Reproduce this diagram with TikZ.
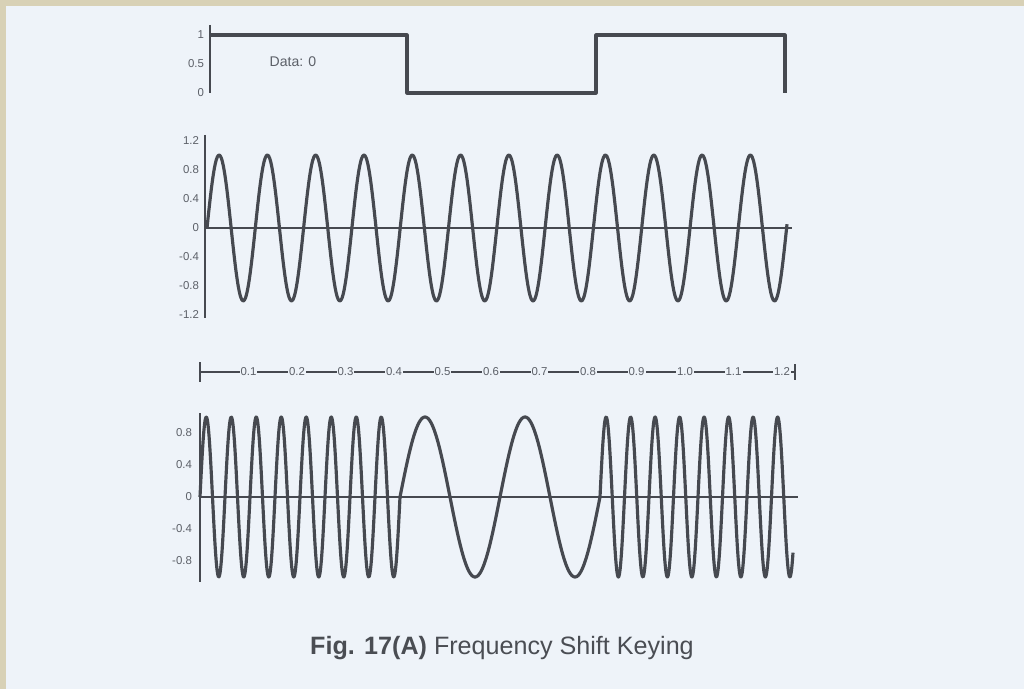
\documentclass[tikz,border=0pt]{standalone}
\usepackage{fontspec}
\setmainfont{Liberation Sans}
\usepackage{tikz}
\usetikzlibrary{positioning,calc}
\definecolor{pageBg}{RGB}{238,243,249}
\definecolor{frameBeige}{RGB}{216,209,182}
\definecolor{inkGray}{RGB}{70,73,80}
\definecolor{textGray}{RGB}{92,96,104}

\tikzset{
  wave/.style={draw=inkGray,line width=1.8pt,line join=round},
  axisline/.style={draw=inkGray,line width=1.1pt},
  ticklbl/.style={text=textGray,font=\fontsize{6.5}{7}\selectfont,inner sep=1pt},
  steplbl/.style={text=textGray,font=\fontsize{6.5}{7}\selectfont,fill=pageBg,inner sep=0.6pt},
  figcaption/.style={text=textGray!80!black,font=\fontsize{14.3}{16}\selectfont}
}

\begin{document}
\begin{tikzpicture}[x=0.02cm,y=-0.02cm]
    \useasboundingbox (0,0) rectangle (1024,689);
    \fill[frameBeige] (0,0) rectangle (1024,689);
    \fill[pageBg] (6,6) rectangle (1024,689);

    % data bits
    \draw[axisline] (210,25) -- (210,93);
    \foreach \v/\yy in {1/35,0.5/64,0/93}
        \node[ticklbl,anchor=east] (dlbl\yy) at (206,\yy) {\v};
    \node[ticklbl,font=\fontsize{8}{9}\selectfont] (datatag) at (293,62) {Data: 0};
    \draw[wave] (210,35) -- (407,35) -- (407,93) -- (596,93) -- (596,35) -- (785,35) -- (785,93);

    % carrier
    \draw[axisline] (205,135) -- (205,318);
    \draw[axisline] (205,228) -- (792,228);
    \foreach \v [count=\i from 0] in {1.2,0.8,0.4,0,-0.4,-0.8,-1.2}
        \node[ticklbl,anchor=east] (clbl\i) at (201,141+29*\i) {\v};
    \draw[wave] plot[domain=207:787,samples=500,smooth] (\x,{228-73*sin((\x-207)*7.4534)});

    % time axis
    \draw[axisline] (200,372) -- (795,372);
    \draw[axisline] (200,362) -- (200,382);
    \draw[axisline] (795,364) -- (795,380);
    \foreach \t [count=\i] in {0.1,0.2,0.3,0.4,0.5,0.6,0.7,0.8,0.9,1.0,1.1,1.2}
        \node[steplbl] (tlbl\i) at (200+48.5*\i,372) {\t};

    % fsk output
    \draw[axisline] (200,413) -- (200,582);
    \draw[axisline] (200,497) -- (798,497);
    \foreach \v [count=\i from 0] in {0.8,0.4,0,-0.4,-0.8}
        \node[ticklbl,anchor=east] (flbl\i) at (194,433+32*\i) {\v};
    \draw[wave] plot[domain=200:400,samples=400,smooth] (\x,{497-80*sin((\x-200)*14.4)})
        -- plot[domain=400:600,samples=200,smooth] (\x,{497-80*sin((\x-400)*3.6)})
        -- plot[domain=600:793,samples=400,smooth] (\x,{497-80*sin((\x-600)*14.694)});

    \node[figcaption] (figcap) at (502,648) {\textbf{Fig. 17(A)} Frequency Shift Keying};
\end{tikzpicture}
\end{document}
